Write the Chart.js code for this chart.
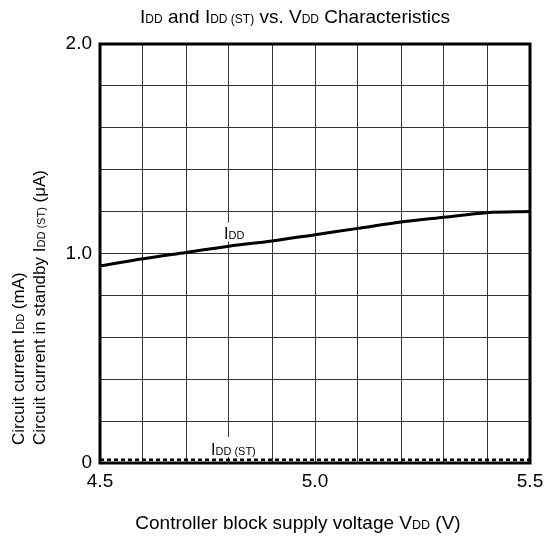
<!DOCTYPE html>
<html>

<head>
    <title>idd_vs_vdd</title>
    <script src="https://cdn.jsdelivr.net/npm/chart.js"></script>
    <style>
        body {
            margin: 0;
            background: #fff;
        }
    </style>
</head>

<body>
    <canvas id="chartCanvas" width="544" height="540"></canvas>
    <script>
        // values
        const voltage = [4.5, 4.6, 4.7, 4.8, 4.9, 5.0, 5.1, 5.2, 5.3, 5.4, 5.5];
        const iddMilliAmp = [0.94, 0.975, 1.005, 1.035, 1.06, 1.09, 1.12, 1.15, 1.173, 1.195, 1.2];
        const iddStandbyMicroAmp = [0.015, 0.015, 0.015, 0.015, 0.015, 0.015, 0.015, 0.015, 0.015, 0.015, 0.015];
        const xTickLabels = ['4.5', '5.0', '5.5'];
        const yTickLabels = ['0', '1.0', '2.0'];

        const FONT = '"Liberation Sans", Arial, Helvetica, sans-serif';

        // draw text made of [text, size] pieces (for the small "DD" subscripts)
        function drawParts(ctx, parts, x, y, align) {
            let total = 0;
            parts.forEach(p => {
                ctx.font = p[1] + 'px ' + FONT;
                total += ctx.measureText(p[0]).width;
            });
            let cx = align === 'center' ? x - total / 2 : x;
            ctx.textAlign = 'left';
            ctx.textBaseline = 'alphabetic';
            parts.forEach(p => {
                ctx.font = p[1] + 'px ' + FONT;
                ctx.fillText(p[0], cx, y);
                cx += ctx.measureText(p[0]).width;
            });
            return total;
        }

        const textPlugin = {
            id: 'textPlugin',
            afterDatasetsDraw(chart) {
                const ctx = chart.ctx;
                const xs = chart.scales.x;
                const ys = chart.scales.y;
                ctx.save();

                // curve labels, white box cuts the grid line behind them
                const lx = xs.getPixelForValue(4.8);
                const y1 = ys.getPixelForValue(1.09);
                const y2 = ys.getPixelForValue(0.12);
                ctx.fillStyle = '#fff';
                ctx.fillRect(lx - 8, y1 - 12, 30, 19);
                ctx.fillRect(lx - 20, y2 - 1, 54, 20);
                ctx.fillStyle = '#000';
                drawParts(ctx, [['I', 16], ['DD', 11], ], lx - 5, y1 + 4, 'left');
                drawParts(ctx, [['I', 16], ['DD (ST)', 11]], lx - 18, y2 + 17, 'left');

                // frame
                const a = chart.chartArea;
                ctx.strokeStyle = '#000';
                ctx.lineWidth = 3;
                ctx.strokeRect(a.left, a.top, a.right - a.left, a.bottom - a.top);
                ctx.restore();
            },
            afterDraw(chart) {
                const ctx = chart.ctx;
                ctx.save();
                ctx.fillStyle = '#000';
                drawParts(ctx, [['I', 19], ['DD', 12], [' and I', 19], ['DD (ST)', 12], [' vs. V', 19], ['DD', 12], [' Characteristics', 19]], 295, 23, 'center');
                drawParts(ctx, [['Controller block supply voltage V', 19], ['DD', 12.5], [' (V)', 19]], 298, 529, 'center');

                ctx.save();
                ctx.translate(24, 445);
                ctx.rotate(-Math.PI / 2);
                drawParts(ctx, [['Circuit current I', 17], ['DD', 11], [' (mA)', 17]], 0, 0, 'left');
                ctx.restore();
                ctx.save();
                ctx.translate(45, 445);
                ctx.rotate(-Math.PI / 2);
                drawParts(ctx, [['Circuit current in standby I', 17], ['DD (ST)', 11], [' (\u03bcA)', 17]], 0, 0, 'left');
                ctx.restore();
                ctx.restore();
            }
        };

        function labelFor(value, labels) {
            const s = value === 0 ? '0' : value.toFixed(1);
            return labels.includes(s) ? s : '';
        }

        new Chart(document.getElementById('chartCanvas'), {
            type: 'line',
            data: {
                labels: voltage,
                datasets: [{
                    label: 'IDD',
                    data: voltage.map((v, i) => ({ x: v, y: iddMilliAmp[i] })),
                    borderColor: '#000',
                    borderWidth: 3,
                    pointRadius: 0,
                    cubicInterpolationMode: 'monotone'
                }, {
                    label: 'IDD (ST)',
                    data: voltage.map((v, i) => ({ x: v, y: iddStandbyMicroAmp[i] })),
                    borderColor: '#000',
                    borderWidth: 2.5,
                    borderDash: [4, 3],
                    pointRadius: 0
                }]
            },
            options: {
                responsive: false,
                animation: false,
                layout: { padding: { top: 44, right: 14, left: 0, bottom: 0 } },
                plugins: {
                    legend: { display: false },
                    tooltip: { enabled: false }
                },
                scales: {
                    x: {
                        type: 'linear',
                        min: 4.5,
                        max: 5.5,
                        afterFit(scale) {
                            scale.height = 77;
                            scale.paddingLeft = 0;
                            scale.paddingRight = 0;
                        },
                        border: { display: false },
                        grid: { color: '#333', lineWidth: 1, drawTicks: false },
                        ticks: {
                            stepSize: 0.1,
                            autoSkip: false,
                            maxRotation: 0,
                            padding: 7,
                            color: '#000',
                            font: { family: FONT, size: 19 },
                            callback: v => labelFor(v, xTickLabels)
                        }
                    },
                    y: {
                        min: 0,
                        max: 2,
                        afterFit(scale) {
                            scale.width = 100;
                            scale.paddingTop = 0;
                            scale.paddingBottom = 0;
                        },
                        border: { display: false },
                        grid: { color: '#333', lineWidth: 1, drawTicks: false },
                        ticks: {
                            stepSize: 0.2,
                            autoSkip: false,
                            padding: 8,
                            color: '#000',
                            font: { family: FONT, size: 19 },
                            callback: v => labelFor(v, yTickLabels)
                        }
                    }
                }
            },
            plugins: [textPlugin]
        });
    </script>
</body>

</html>
